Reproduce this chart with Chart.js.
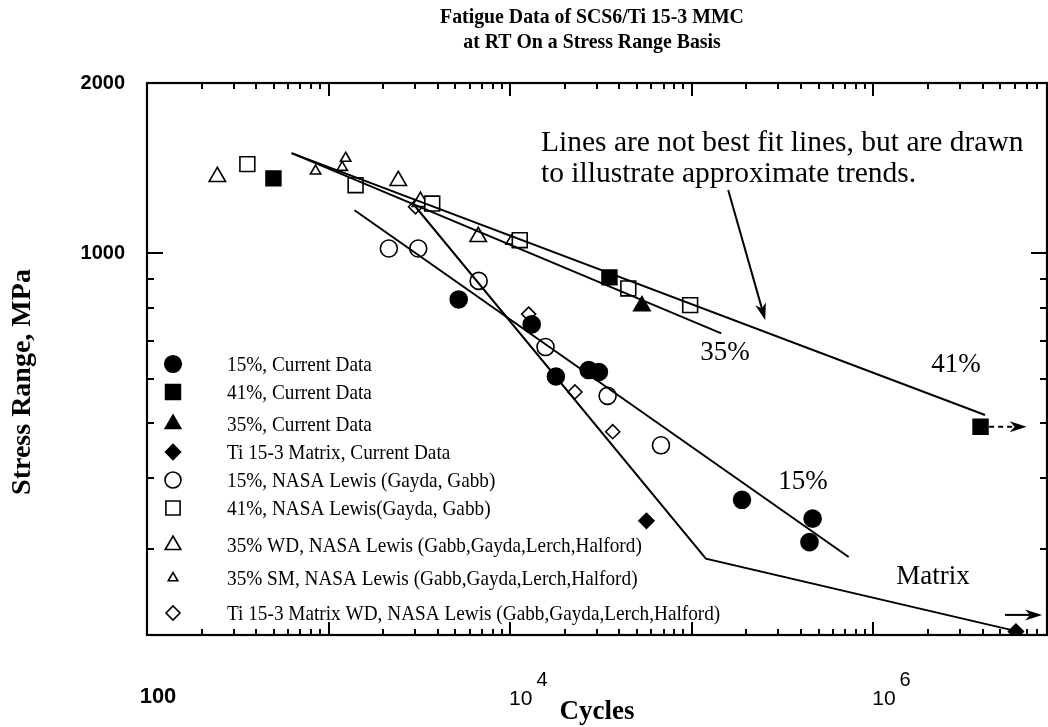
<!DOCTYPE html>
<html><head><meta charset="utf-8">
<script src="https://cdn.jsdelivr.net/npm/chart.js@4.4.1/dist/chart.umd.min.js"></script>
<style>html,body{margin:0;padding:0;background:#fff;overflow:hidden}canvas{display:block}</style>
</head><body>
<canvas id="c" width="1048" height="727"></canvas>
<script>
// ---------------- text ----------------
const titleLines = ['Fatigue Data of SCS6/Ti 15-3 MMC', 'at RT On a Stress Range Basis'];
const xAxisTitle = 'Cycles';
const yAxisTitle = 'Stress Range, MPa';
const noteLines = ['Lines are not best fit lines, but are drawn', 'to illustrate approximate trends.'];
const curveLabels = ['35%', '41%', '15%', 'Matrix'];

// ---------------- axes ----------------
const xTickValues = [100, 10000, 1000000];
const xTickBase = ['100', '10', '10'];
const xTickExp = ['', '4', '6'];
const xMajorMarks = [1000, 10000, 100000, 1000000];
const yTickValues = [1000, 2000];
const yTickLabels = ['1000', '2000'];
const yMinorMarks = [300, 400, 500, 600, 700, 800, 900];
const yMajorMarks = [1000];

// ---------------- series ----------------
const seriesNames = [
  '15%, Current Data',
  '41%, Current Data',
  '35%, Current Data',
  'Ti 15-3 Matrix, Current Data',
  '15%, NASA Lewis (Gayda, Gabb)',
  '41%, NASA Lewis(Gayda, Gabb)',
  '35% WD, NASA Lewis (Gabb,Gayda,Lerch,Halford)',
  '35% SM, NASA Lewis (Gabb,Gayda,Lerch,Halford)',
  'Ti 15-3 Matrix WD, NASA Lewis (Gabb,Gayda,Lerch,Halford)'
];
const cur15Cycles = [5210, 13150, 17870, 27100, 30830, 189300, 463600, 445600];
const cur15Stress = [828, 748, 605, 621, 616, 366, 339, 308];
const cur41Cycles = [497, 35240, 3900000];
const cur41Stress = [1356, 906, 493];
const cur35Cycles = [53210];
const cur35Stress = [806];
const curMatCycles = [56360, 6110000];
const curMatStress = [336, 214];
const nasa15Cycles = [2148, 3119, 6710, 15670, 34430, 67750];
const nasa15Stress = [1019, 1019, 893, 682, 559, 457];
const nasa41Cycles = [357, 1409, 3724, 11300, 44770, 98100];
const nasa41Stress = [1437, 1319, 1224, 1054, 866, 809];
const wd35Cycles = [244, 2420, 3206, 6670];
const wd35Stress = [1365, 1343, 1233, 1069];
const sm35Cycles = [848, 1189, 1242, 10140];
const sm35Stress = [1397, 1418, 1472, 1050];
const matWdCycles = [3013, 12650, 22750, 36730];
const matWdStress = [1208, 780, 568, 483];

// trend lines (drawn by hand in the original)
const trend41Cycles = [626, 4130000];
const trend41Stress = [1503, 517];
const trend35Cycles = [626, 145600];
const trend35Stress = [1503, 721];
const trend15Cycles = [1390, 732500];
const trend15Stress = [1191, 290];
const trendMatCycles = [3013, 119700, 5890000];
const trendMatStress = [1208, 288, 215];

// arrows (run-outs and note pointer)
const noteArrowCycles = [158900, 254200];
const noteArrowStress = [1293, 761];
const runout41Cycles = [4350000, 7000000];
const runout41Stress = [493, 493];
const runoutMatCycles = [5320000, 8510000];
const runoutMatStress = [229, 229];

// ---------------- styles ----------------
const seriesX = [cur15Cycles, cur41Cycles, cur35Cycles, curMatCycles, nasa15Cycles, nasa41Cycles, wd35Cycles, sm35Cycles, matWdCycles];
const seriesY = [cur15Stress, cur41Stress, cur35Stress, curMatStress, nasa15Stress, nasa41Stress, wd35Stress, sm35Stress, matWdStress];
const seriesStyle = [
  {shape: 'circle', fill: '#000', r: 8.5, lr: 8.3},
  {shape: 'rect', fill: '#000', r: 10.5, lr: 10.5},
  {shape: 'triangle', fill: '#000', r: 9.5, lr: 9},
  {shape: 'rectRot', fill: '#000', r: 7.5, lr: 7.5},
  {shape: 'circle', fill: '#fff', r: 8.5, lr: 8},
  {shape: 'rect', fill: '#fff', r: 10.5, lr: 10},
  {shape: 'triangle', fill: '#fff', r: 9.5, lr: 9},
  {shape: 'triangle', fill: '#fff', r: 6, lr: 5.5},
  {shape: 'rectRot', fill: '#fff', r: 7, lr: 7}
];
const trendX = [trend41Cycles, trend35Cycles, trend15Cycles, trendMatCycles];
const trendY = [trend41Stress, trend35Stress, trend15Stress, trendMatStress];

const pts = (xs, ys) => xs.map((v, i) => ({x: v, y: ys[i]}));

const datasets = [];
trendX.forEach((xs, i) => datasets.push({
  label: 'trend' + i, isTrend: true, data: pts(xs, trendY[i]), showLine: true,
  borderColor: '#000', borderWidth: 2, pointRadius: 0, fill: false, tension: 0
}));
seriesNames.forEach((name, i) => {
  const s = seriesStyle[i];
  datasets.push({
    label: name, data: pts(seriesX[i], seriesY[i]), showLine: false,
    pointStyle: s.shape, pointRadius: s.r, pointHoverRadius: s.r,
    pointBackgroundColor: s.fill, pointBorderColor: '#000', pointBorderWidth: 1.6,
    legendRadius: s.lr
  });
});

const SERIF = "'Liberation Serif', 'Times New Roman', serif";
const SANS = "'Liberation Sans', Arial, sans-serif";

function drawArrow(ctx, x1, y1, x2, y2, dashed) {
  const ang = Math.atan2(y2 - y1, x2 - x1);
  const L = 17, W = 5.5, N = 12;
  const c = Math.cos(ang), s = Math.sin(ang);
  const bx = x2 - N * c, by = y2 - N * s;
  ctx.save();
  ctx.strokeStyle = '#000'; ctx.fillStyle = '#000'; ctx.lineWidth = 2;
  if (dashed) ctx.setLineDash([5, 4]);
  ctx.beginPath(); ctx.moveTo(x1, y1); ctx.lineTo(bx, by); ctx.stroke();
  ctx.setLineDash([]);
  ctx.beginPath();
  ctx.moveTo(x2, y2);
  ctx.lineTo(x2 - L * c - W * s, y2 - L * s + W * c);
  ctx.lineTo(bx, by);
  ctx.lineTo(x2 - L * c + W * s, y2 - L * s - W * c);
  ctx.closePath(); ctx.fill();
  ctx.restore();
}

const decor = {
  id: 'decor',
  beforeDraw(chart) {
    const ctx = chart.ctx;
    ctx.save(); ctx.fillStyle = '#fff'; ctx.fillRect(0, 0, chart.width, chart.height); ctx.restore();
  },
  afterDraw(chart) {
    const ctx = chart.ctx, xs = chart.scales.x, ys = chart.scales.y;
    const a = chart.chartArea;
    ctx.save();
    ctx.strokeStyle = '#000'; ctx.fillStyle = '#000';

    // title (condensed bold serif, as in the original)
    ctx.textAlign = 'center'; ctx.textBaseline = 'middle';
    titleLines.forEach((t, i) => {
      ctx.save();
      ctx.translate(592, 17 + i * 25);
      ctx.scale(0.9, 1);
      ctx.font = 'bold 22px ' + SERIF;
      ctx.fillText(t, 0, 0);
      ctx.restore();
    });

    // frame
    ctx.lineWidth = 2.2;
    ctx.strokeRect(a.left, a.top, a.right - a.left, a.bottom - a.top);
    // inward tick marks, x
    ctx.lineWidth = 2;
    const xMinor = [];
    for (let d = 100; d <= 1e6; d *= 10) for (let k = 2; k <= 9; k++) xMinor.push(k * d);
    const tickX = (v, len) => {
      const p = Math.round(xs.getPixelForValue(v));
      if (p <= a.left + 1 || p >= a.right - 1) return;
      ctx.beginPath(); ctx.moveTo(p, a.bottom); ctx.lineTo(p, a.bottom - len); ctx.stroke();
      ctx.beginPath(); ctx.moveTo(p, a.top); ctx.lineTo(p, a.top + len); ctx.stroke();
    };
    xMinor.forEach(v => tickX(v, 6));
    xMajorMarks.forEach(v => tickX(v, 13));
    const tickY = (v, len) => {
      const p = Math.round(ys.getPixelForValue(v));
      ctx.beginPath(); ctx.moveTo(a.left, p); ctx.lineTo(a.left + len, p); ctx.stroke();
      ctx.beginPath(); ctx.moveTo(a.right, p); ctx.lineTo(a.right - len, p); ctx.stroke();
    };
    yMinorMarks.forEach(v => tickY(v, 7));
    yMajorMarks.forEach(v => tickY(v, 16));

    // x tick labels with superscripts
    ctx.textBaseline = 'alphabetic';
    xTickValues.forEach((v, i) => {
      const p = xs.getPixelForValue(v);
      if (!xTickExp[i]) {
        ctx.font = 'bold 22px ' + SANS;
        ctx.textAlign = 'center';
        ctx.fillText(xTickBase[i], p + 11, 703);
      } else {
        ctx.font = '21px ' + SANS;
        ctx.textAlign = 'left';
        const w = ctx.measureText(xTickBase[i]).width;
        ctx.fillText(xTickBase[i], p - 1, 705);
        ctx.font = '20px ' + SANS;
        ctx.fillText(xTickExp[i], p + 3 + w, 686);
      }
    });

    // y axis title
    ctx.save();
    ctx.translate(23, 382); ctx.rotate(-Math.PI / 2);
    ctx.font = 'bold 28px ' + SERIF; ctx.textAlign = 'center'; ctx.textBaseline = 'middle';
    ctx.fillText(yAxisTitle, 0, 0);
    ctx.restore();

    // trend labels
    ctx.font = '27px ' + SERIF; ctx.textAlign = 'center'; ctx.textBaseline = 'middle';
    const lblPos = [[725, 353], [956, 365], [803, 482], [933, 577]];
    curveLabels.forEach((t, i) => ctx.fillText(t, lblPos[i][0], lblPos[i][1]));

    // note
    ctx.font = '29.5px ' + SERIF; ctx.textAlign = 'left';
    ctx.fillText(noteLines[0], 541, 143);
    ctx.fillText(noteLines[1], 541, 174);

    // arrows
    const P = (cx, sy) => [xs.getPixelForValue(cx), ys.getPixelForValue(sy)];
    let p1 = P(noteArrowCycles[0], noteArrowStress[0]), p2 = P(noteArrowCycles[1], noteArrowStress[1]);
    drawArrow(ctx, p1[0], p1[1], p2[0], p2[1], false);
    p1 = P(runout41Cycles[0], runout41Stress[0]); p2 = P(runout41Cycles[1], runout41Stress[1]);
    drawArrow(ctx, p1[0], p1[1], p2[0], p2[1], true);
    p1 = P(runoutMatCycles[0], runoutMatStress[0]); p2 = P(runoutMatCycles[1], runoutMatStress[1]);
    drawArrow(ctx, p1[0], p1[1], p2[0], p2[1], false);

    // legend
    const rowY = [364, 392, 424, 452, 480, 508, 545, 578, 613];
    const mx = 173, tx = 227;
    chart.data.datasets.filter(d => !d.isTrend).forEach((d, i) => {
      ctx.fillStyle = d.pointBackgroundColor; ctx.strokeStyle = '#000'; ctx.lineWidth = 1.6;
      Chart.helpers.drawPoint(ctx, {pointStyle: d.pointStyle, radius: d.legendRadius, rotation: 0, borderWidth: 1.6}, mx, rowY[i]);
      ctx.fillStyle = '#000';
      ctx.save();
      ctx.translate(tx, rowY[i]);
      ctx.scale(0.875, 1);
      ctx.font = '22px ' + SERIF; ctx.textAlign = 'left'; ctx.textBaseline = 'middle';
      ctx.fillText(d.label, 0, 1);
      ctx.restore();
    });
    ctx.restore();
  }
};

new Chart(document.getElementById('c'), {
  type: 'scatter',
  data: {datasets},
  plugins: [decor],
  options: {
    responsive: false, animation: false, events: [], devicePixelRatio: 1,
    layout: {autoPadding: false, padding: {left: 0, right: 1, top: 83, bottom: 0}},
    plugins: {
      legend: {display: false}, tooltip: {enabled: false}, title: {display: false}
    },
    scales: {
      x: {type: 'logarithmic', position: 'bottom', min: 100, max: 9060000,
        afterBuildTicks: s => { s.ticks = xTickValues.map(v => ({value: v})); },
        afterFit: s => { s.height = 92; },
        ticks: {display: false},
        grid: {display: false, drawTicks: false}, border: {display: false},
        title: {display: true, text: xAxisTitle, color: '#000', font: {family: SERIF, size: 27, weight: 'bold'}, padding: {top: 0, bottom: -1}}
      },
      y: {type: 'logarithmic', position: 'left', min: 211, max: 2000,
        afterBuildTicks: s => { s.ticks = yTickValues.map(v => ({value: v})); },
        afterFit: s => { s.width = 147; },
        ticks: {autoSkip: false, padding: 22, color: '#000', font: {family: SANS, size: 20, weight: 'bold'},
          callback: v => { const i = yTickValues.indexOf(v); return i >= 0 ? yTickLabels[i] : ''; }},
        grid: {display: false, drawTicks: false}, border: {display: false},
        title: {display: false, text: yAxisTitle}
      }
    }
  }
});
</script>
</body></html>
